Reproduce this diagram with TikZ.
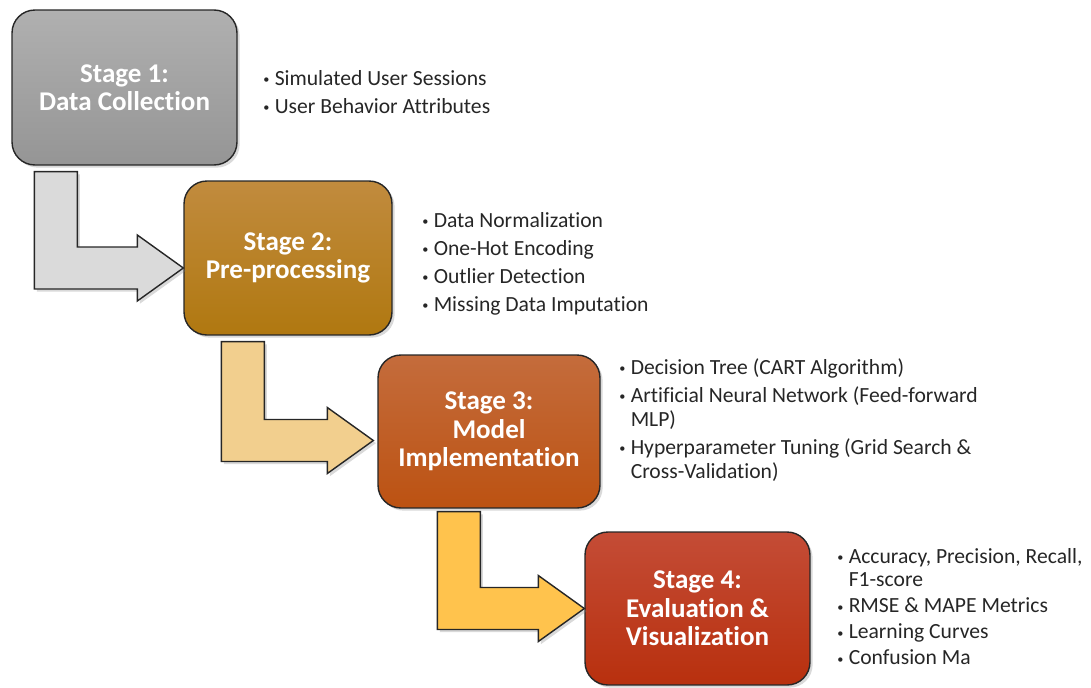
\documentclass[tikz,border=0pt]{standalone}
\usepackage{fontspec}
\setmainfont[Ligatures=NoCommon]{Carlito}
\usepackage{tikz}
\usetikzlibrary{positioning,calc,shadows}
\definecolor{stageonetop}{HTML}{B0B0B0}
\definecolor{stageonebot}{HTML}{959595}
\definecolor{stagetwotop}{HTML}{C18B3E}
\definecolor{stagetwobot}{HTML}{B07810}
\definecolor{stagethreetop}{HTML}{C46C3C}
\definecolor{stagethreebot}{HTML}{BC5212}
\definecolor{stagefourtop}{HTML}{C44C36}
\definecolor{stagefourbot}{HTML}{B8300E}
\definecolor{arrowone}{HTML}{DADADA}
\definecolor{arrowtwo}{HTML}{F2CF8E}
\definecolor{arrowthree}{HTML}{FFC34D}
\newcommand{\itembullet}{\raisebox{0.9pt}{\scriptsize\textbullet}}
\tikzset{
    stage-box/.style = {draw=black!85, line width=0.8pt, rectangle, rounded corners=13pt, inner sep=0pt, text=white, align=center, font=\bfseries\fontsize{15.4}{16.2}\selectfont, drop shadow={opacity=0.3, shadow xshift=1.5pt, shadow yshift=-1.5pt}},
    bent-arrow/.style = {draw=black!85, line width=0.8pt, line join=miter, drop shadow={opacity=0.3, shadow xshift=1.5pt, shadow yshift=-1.5pt}},
    item-list/.style = {anchor=base west, inner sep=0pt, text=black!85, font=\fontsize{12.3}{13.6}\selectfont},
}
\begin{document}
\begin{tikzpicture}[x=0.02cm, y=-0.02cm]
\useasboundingbox (0,0) rectangle (1091,687);
% stages
\node [stage-box, minimum width=4.5cm, minimum height=3.1cm, top color=stageonetop, bottom color=stageonebot] (s1) at (124.5,87.5) {Stage 1:\\Data Collection};
\node [stage-box, minimum width=4.16cm, minimum height=3.08cm, top color=stagetwotop, bottom color=stagetwobot] (s2) at (288,258) {Stage 2:\\Pre-processing};
\node [stage-box, minimum width=4.44cm, minimum height=3.06cm, top color=stagethreetop, bottom color=stagethreebot] (s3) at (489,431.5) {Stage 3:\\Model\\Implementation};
\node [stage-box, minimum width=4.5cm, minimum height=3.06cm, top color=stagefourtop, bottom color=stagefourbot] (s4) at (697.5,608.5) {Stage 4:\\Evaluation \&\\Visualization};

% arrows between stages
\coordinate (a1) at ($(s1.south west)+(23,6)$);
\coordinate (t1) at ($(s2.west)+(0,10)$);
\draw [bent-arrow, fill=arrowone] (a1) -- ++(43,0) |- ($(t1)+(-46,-21)$) -- ++(0,-12) -- (t1) -- ++(-46,33) -- ++(0,-12) -| (a1) -- cycle;
\coordinate (a2) at ($(s2.south west)+(38,6)$);
\coordinate (t2) at ($(s3.west)+(-4,9)$);
\draw [bent-arrow, fill=arrowtwo] (a2) -- ++(43,0) |- ($(t2)+(-46,-21)$) -- ++(0,-12) -- (t2) -- ++(-46,33) -- ++(0,-12) -| (a2) -- cycle;
\coordinate (a3) at ($(s3.south west)+(60,3)$);
\coordinate (t3) at (s4.west);
\draw [bent-arrow, fill=arrowthree] (a3) -- ++(43,0) |- ($(t3)+(-46,-21)$) -- ++(0,-12) -- (t3) -- ++(-46,33) -- ++(0,-12) -| (a3) -- cycle;

% bullet lists
\node [item-list] (l1) at (263,85) {\begin{tabular}[t]{@{}l@{\hspace{3pt}}l@{}}
    \itembullet & Simulated User Sessions\\[2.4pt]
    \itembullet & User Behavior Attributes
\end{tabular}};
\node [item-list] (l2) at (422,227) {\begin{tabular}[t]{@{}l@{\hspace{3pt}}l@{}}
    \itembullet & Data Normalization\\[2.4pt]
    \itembullet & One-Hot Encoding\\[2.4pt]
    \itembullet & Outlier Detection\\[2.4pt]
    \itembullet & Missing Data Imputation
\end{tabular}};
\node [item-list] (l3) at (619,374) {\begin{tabular}[t]{@{}l@{\hspace{3pt}}l@{}}
    \itembullet & Decision Tree (CART Algorithm)\\[2.4pt]
    \itembullet & Artificial Neural Network (Feed-forward\\
                & MLP)\\[2.4pt]
    \itembullet & Hyperparameter Tuning (Grid Search \&\\
                & Cross-Validation)
\end{tabular}};
\node [item-list] (l4) at (837,563) {\begin{tabular}[t]{@{}l@{\hspace{3pt}}l@{}}
    \itembullet & Accuracy, Precision, Recall,\\
                & F1-score\\[1.2pt]
    \itembullet & RMSE \& MAPE Metrics\\[1.2pt]
    \itembullet & Learning Curves\\[1.2pt]
    \itembullet & Confusion Ma
\end{tabular}};
\end{tikzpicture}
\end{document}
